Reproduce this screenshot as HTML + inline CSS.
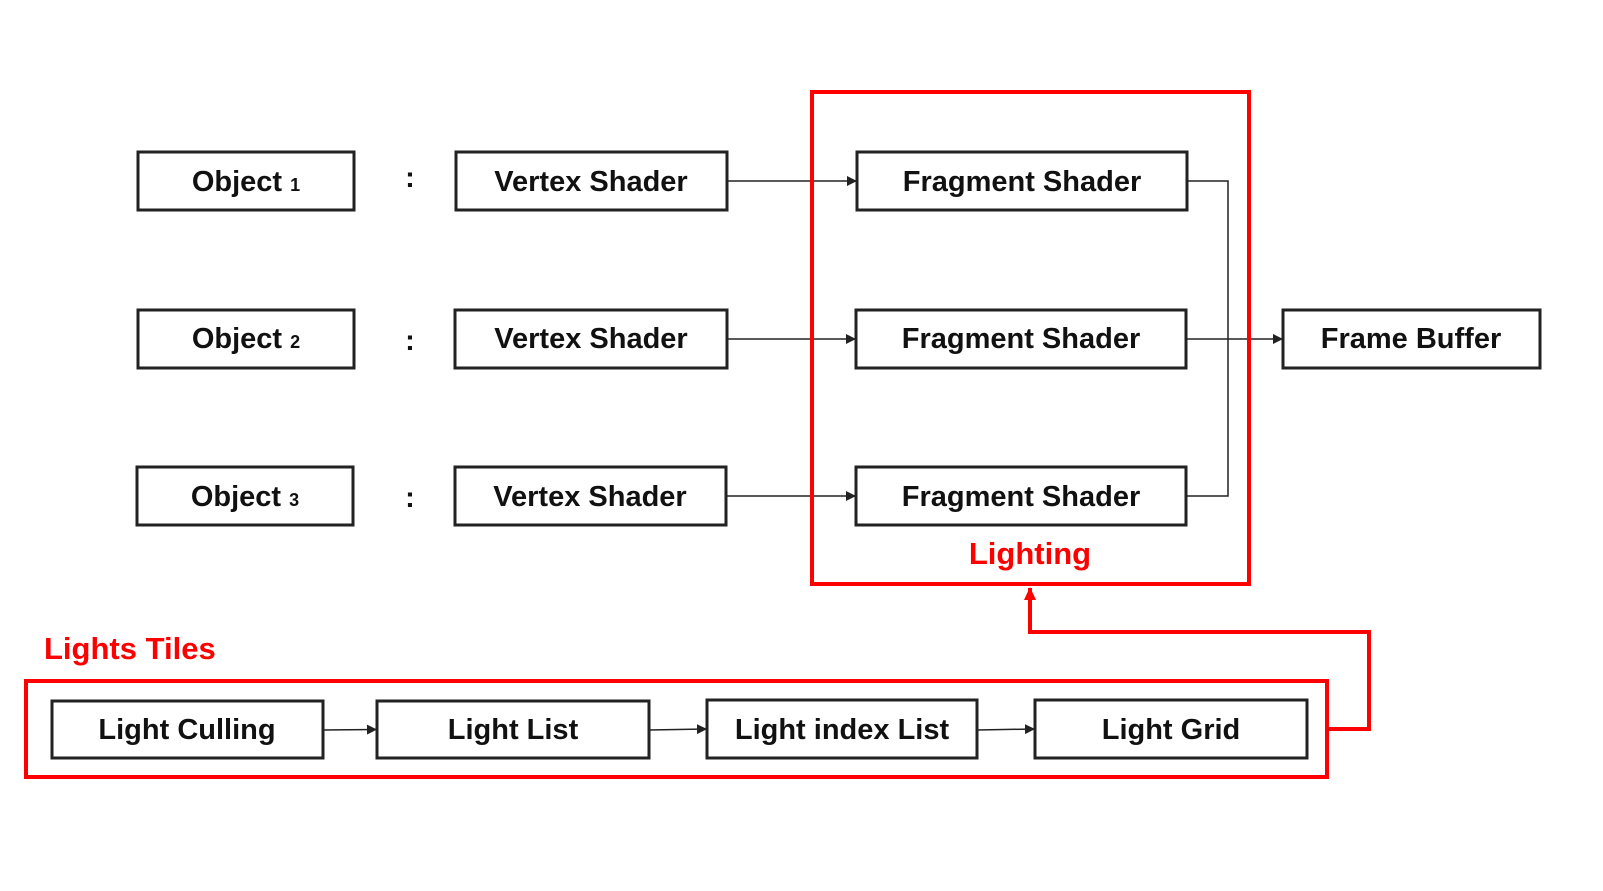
<!DOCTYPE html>
<html><head><meta charset="utf-8"><style>html,body{margin:0;padding:0;background:#fff;overflow:hidden;width:1603px;height:891px}svg{display:block}</style></head>
<body>
<svg width="1603" height="891" viewBox="0 0 1603 891" xmlns="http://www.w3.org/2000/svg">
<defs>
<marker id="a" markerWidth="10" markerHeight="10" refX="9" refY="5" orient="auto" markerUnits="userSpaceOnUse"><path d="M0,0 L10,5 L0,10 z" fill="#222"/></marker>
<marker id="r" markerWidth="14" markerHeight="14" refX="12" refY="7" orient="auto" markerUnits="userSpaceOnUse"><path d="M0,1 L13,7 L0,13 z" fill="#f00"/></marker>
</defs>
<g fill="none" stroke="#222" stroke-width="3">
<rect x="138" y="152" width="216" height="58"/>
<rect x="138" y="310" width="216" height="58"/>
<rect x="137" y="467" width="216" height="58"/>
<rect x="456" y="152" width="271" height="58"/>
<rect x="455" y="310" width="272" height="58"/>
<rect x="455" y="467" width="271" height="58"/>
<rect x="857" y="152" width="330" height="58"/>
<rect x="856" y="310" width="330" height="58"/>
<rect x="856" y="467" width="330" height="58"/>
<rect x="1283" y="310" width="257" height="58"/>
<rect x="52" y="701" width="271" height="57"/>
<rect x="377" y="701" width="272" height="57"/>
<rect x="707" y="700" width="270" height="58"/>
<rect x="1035" y="700" width="272" height="58"/>
</g>
<g fill="none" stroke="#222" stroke-width="1.5">
<line x1="727" y1="181" x2="856" y2="181" marker-end="url(#a)"/>
<line x1="727" y1="339" x2="855" y2="339" marker-end="url(#a)"/>
<line x1="726" y1="496" x2="855" y2="496" marker-end="url(#a)"/>
<polyline points="1187,181 1228,181 1228,496 1186,496"/>
<line x1="1186" y1="339" x2="1282" y2="339" marker-end="url(#a)"/>
<line x1="323" y1="730" x2="376" y2="729.5" marker-end="url(#a)"/>
<line x1="649" y1="730" x2="706" y2="729" marker-end="url(#a)"/>
<line x1="977" y1="730" x2="1034" y2="729" marker-end="url(#a)"/>
</g>
<g fill="none" stroke="#f00" stroke-width="4">
<rect x="812" y="92" width="437" height="492"/>
<rect x="26" y="681" width="1301" height="96"/>
<polyline points="1327,729 1369,729 1369,632 1030,632 1030,588" marker-end="url(#r)"/>
</g>
<g font-family="Liberation Sans, sans-serif" font-weight="bold" font-size="29" fill="#111" text-anchor="middle">
<text x="246" y="191">Object <tspan font-size="18">1</tspan></text>
<text x="246" y="348">Object <tspan font-size="18">2</tspan></text>
<text x="245" y="506">Object <tspan font-size="18">3</tspan></text>
<text x="410" y="187">:</text>
<text x="410" y="350">:</text>
<text x="410" y="507">:</text>
<text x="591" y="191">Vertex Shader</text>
<text x="591" y="348">Vertex Shader</text>
<text x="590" y="506">Vertex Shader</text>
<text x="1022" y="191">Fragment Shader</text>
<text x="1021" y="348">Fragment Shader</text>
<text x="1021" y="506">Fragment Shader</text>
<text x="1411" y="348">Frame Buffer</text>
<text x="187" y="739">Light Culling</text>
<text x="513" y="739">Light List</text>
<text x="842" y="739">Light index List</text>
<text x="1171" y="739">Light Grid</text>
</g>
<g font-family="Liberation Sans, sans-serif" font-weight="bold" font-size="31" fill="#f00">
<text x="1030" y="564" text-anchor="middle">Lighting</text>
<text x="44" y="659">Lights Tiles</text>
</g>
</svg>
</body></html>
